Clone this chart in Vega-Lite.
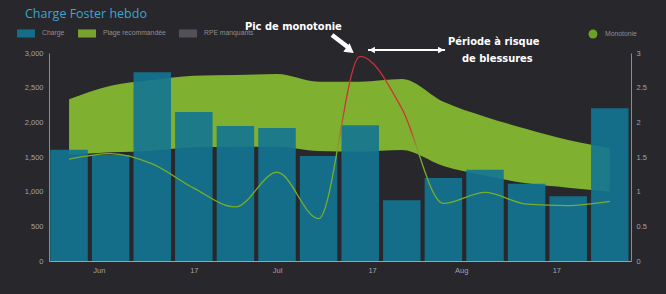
{
  "$schema": "https://vega.github.io/schema/vega-lite/v6.json",
  "width": 582,
  "height": 208,
  "autosize": "none",
  "padding": {"left": 49, "top": 53, "right": 35, "bottom": 33},
  "background": "#28272c",
  "title": {
    "text": "Charge Foster hebdo",
    "anchor": "start",
    "frame": "group",
    "color": "#37a9cc",
    "font": "Open Sans",
    "fontSize": 12.5,
    "fontWeight": "normal",
    "dx": -24,
    "offset": 1
  },
  "config": {
    "view": {"stroke": null},
    "axis": {
      "labelFont": "Liberation Sans",
      "labelFontSize": 7.5,
      "labelColor": "#a3a3a6",
      "ticks": false,
      "grid": false,
      "title": null,
      "domainColor": "#8c8c90",
      "domainWidth": 1
    },
    "legend": {
      "labelFont": "Liberation Sans",
      "labelFontSize": 6.8,
      "labelColor": "#8e8e92",
      "title": null
    }
  },
  "datasets": {
    "weeks": [
      {"date": "2019-05-27", "charge": 1605, "lo": 1529, "hi": 2332, "mono": 1.47},
      {"date": "2019-06-03", "charge": 1529, "lo": 1567, "hi": 2529, "mono": 1.55},
      {"date": "2019-06-10", "charge": 2722, "lo": 1591, "hi": 2611, "mono": 1.40},
      {"date": "2019-06-17", "charge": 2149, "lo": 1640, "hi": 2673, "mono": 1.05},
      {"date": "2019-06-24", "charge": 1947, "lo": 1649, "hi": 2683, "mono": 0.78},
      {"date": "2019-07-01", "charge": 1918, "lo": 1649, "hi": 2697, "mono": 1.28},
      {"date": "2019-07-08", "charge": 1514, "lo": 1587, "hi": 2586, "mono": 0.61},
      {"date": "2019-07-15", "charge": 1957, "lo": 1577, "hi": 2587, "mono": 2.95},
      {"date": "2019-07-22", "charge": 875, "lo": 1601, "hi": 2625, "mono": 2.2},
      {"date": "2019-07-29", "charge": 1197, "lo": 1370, "hi": 2298, "mono": 0.83},
      {"date": "2019-08-05", "charge": 1317, "lo": 1231, "hi": 2082, "mono": 0.99},
      {"date": "2019-08-12", "charge": 1115, "lo": 1120, "hi": 1904, "mono": 0.82},
      {"date": "2019-08-19", "charge": 933, "lo": 1058, "hi": 1745, "mono": 0.80},
      {"date": "2019-08-26", "charge": 2202, "lo": 1000, "hi": 1630, "mono": 0.86}
    ],
    "labels": [
      {"date": "2019-06-25T14:30:00Z", "v": 3.33, "label": "Pic de  monotonie"},
      {"date": "2019-07-29T18:30:00Z", "v": 3.116, "label": "Période à risque"},
      {"date": "2019-08-01T03:00:00Z", "v": 2.87, "label": "de blessures"}
    ],
    "arrows": [
      {"date": "2019-07-10T06:00:00Z", "v": 3.26, "date2": "2019-07-13T02:40:00Z", "v2": 3.072},
      {"date": "2019-07-16T07:30:00Z", "v": 3.043, "date2": "2019-07-29T06:30:00Z", "v2": 3.043}
    ],
    "heads": [
      {"date": "2019-07-13T07:00:00Z", "v": 3.04, "kind": "down"},
      {"date": "2019-07-16T23:30:00Z", "v": 3.043, "kind": "left"},
      {"date": "2019-07-28T14:10:00Z", "v": 3.043, "kind": "right"}
    ]
  },
  "layer": [
    {
      "data": {"name": "weeks"},
      "encoding": {
        "x": {
          "field": "date",
          "type": "temporal",
          "scale": {
            "type": "utc",
            "nice": false,
            "padding": 0,
            "domain": [1558623600000, 1567086000000]
          },
          "axis": {
            "values": [1559347200000, 1560729600000, 1561939200000, 1563321600000, 1564617600000, 1566000000000],
            "labelExpr": "utcdate(datum.value) == 1 ? utcFormat(datum.value, '%b') : utcFormat(datum.value, '%-d')",
            "labelPadding": 5,
            "domainColor": "#8fa6b2"
          }
        }
      },
      "layer": [
        {
          "mark": {"type": "area", "interpolate": "monotone"},
          "encoding": {
            "y": {
              "field": "hi",
              "type": "quantitative",
              "scale": {"domain": [0, 3000], "nice": false},
              "axis": {"values": [0, 500, 1000, 1500, 2000, 2500, 3000], "labelExpr": "format(datum.value, ',')", "labelPadding": 6}
            },
            "y2": {"field": "lo"},
            "color": {
              "datum": "Plage recommandée",
              "scale": {
                "domain": ["Charge", "Plage recommandée", "RPE manquants"],
                "range": ["#127693", "#80b030", "#58575c"]
              },
              "legend": {
                "orient": "none",
                "direction": "horizontal",
                "legendX": -32,
                "legendY": -29,
                "symbolType": "M-1,-0.45H1V0.45H-1Z",
                "symbolSize": 324,
                "symbolStrokeWidth": 0,
                "labelOffset": 7,
                "columnPadding": 13
              }
            }
          }
        },
        {
          "mark": {"type": "bar", "width": 37.5, "opacity": 0.9},
          "encoding": {
            "y": {
              "field": "charge",
              "type": "quantitative",
              "axis": {"values": [0, 500, 1000, 1500, 2000, 2500, 3000], "labelExpr": "format(datum.value, ',')", "labelPadding": 6}
            },
            "color": {"datum": "Charge"}
          }
        }
      ]
    },
    {
      "encoding": {
        "x": {"field": "date", "type": "temporal"},
        "y": {
          "field": "v",
          "type": "quantitative",
          "scale": {"domain": [0, 3], "nice": false},
          "axis": {"orient": "right", "values": [0, 0.5, 1, 1.5, 2, 2.5, 3], "labelExpr": "format(datum.value, '~g')", "labelPadding": 5}
        }
      },
      "layer": [
        {
          "data": {"name": "weeks"},
          "mark": {
            "type": "line",
            "interpolate": "monotone",
            "strokeWidth": 1.3,
            "stroke": {
              "gradient": "linear",
              "x1": 0, "y1": 0, "x2": 1, "y2": 0,
              "stops": [
                {"offset": 0, "color": "#76ae2b"},
                {"offset": 0.495, "color": "#76ae2b"},
                {"offset": 0.51, "color": "#cf2f3d"},
                {"offset": 0.632, "color": "#cf2f3d"},
                {"offset": 0.645, "color": "#76ae2b"},
                {"offset": 1, "color": "#76ae2b"}
              ]
            }
          },
          "encoding": {
            "y": {
              "field": "mono",
              "type": "quantitative",
              "axis": {"orient": "right", "values": [0, 0.5, 1, 1.5, 2, 2.5, 3], "labelExpr": "format(datum.value, '~g')", "labelPadding": 5}
            }
          }
        },
        {
          "data": {"name": "weeks"},
          "mark": {"type": "point", "filled": true, "size": 0, "opacity": 1, "color": "#6aa321"},
          "encoding": {
            "y": {
              "field": "mono",
              "type": "quantitative",
              "axis": {"orient": "right", "values": [0, 0.5, 1, 1.5, 2, 2.5, 3], "labelExpr": "format(datum.value, '~g')", "labelPadding": 5}
            },
            "shape": {
              "datum": "Monotonie",
              "scale": {"range": ["circle"]},
              "legend": {
                "orient": "none",
                "legendX": 539.5,
                "legendY": -23.5,
                "symbolSize": 80,
                "symbolFillColor": "#6aa321",
                "symbolOpacity": 1,
                "symbolStrokeWidth": 0,
                "labelOffset": 7.5
              }
            }
          }
        },
        {
          "data": {"name": "arrows"},
          "transform": [{"filter": "datum.v == datum.v2"}],
          "mark": {"type": "rule", "color": "#ffffff", "strokeWidth": 2},
          "encoding": {
            "x2": {"field": "date2"},
            "y2": {"field": "v2"}
          }
        },
        {
          "data": {"name": "arrows"},
          "transform": [{"filter": "datum.v != datum.v2"}],
          "mark": {"type": "rule", "color": "#ffffff", "strokeWidth": 4.5},
          "encoding": {
            "x2": {"field": "date2"},
            "y2": {"field": "v2"}
          }
        },
        {
          "data": {"name": "heads"},
          "transform": [{"filter": "datum.kind == 'down'"}],
          "mark": {"type": "point", "shape": "triangle-up", "angle": 127, "filled": true, "color": "#ffffff", "opacity": 1, "size": 110}
        },
        {
          "data": {"name": "heads"},
          "transform": [{"filter": "datum.kind == 'left'"}],
          "mark": {"type": "point", "shape": "triangle-left", "filled": true, "color": "#ffffff", "opacity": 1, "size": 45}
        },
        {
          "data": {"name": "heads"},
          "transform": [{"filter": "datum.kind == 'right'"}],
          "mark": {"type": "point", "shape": "triangle-right", "filled": true, "color": "#ffffff", "opacity": 1, "size": 45}
        },
        {
          "data": {"name": "labels"},
          "mark": {
            "type": "text",
            "align": "left",
            "baseline": "alphabetic",
            "color": "#ffffff",
            "font": "Liberation Sans Narrow, DejaVu Sans Condensed, Roboto, sans-serif",
            "fontWeight": "bold",
            "fontSize": 11
          },
          "encoding": {
            "text": {"field": "label"}
          }
        }
      ]
    }
  ],
  "resolve": {"scale": {"y": "independent"}}
}
